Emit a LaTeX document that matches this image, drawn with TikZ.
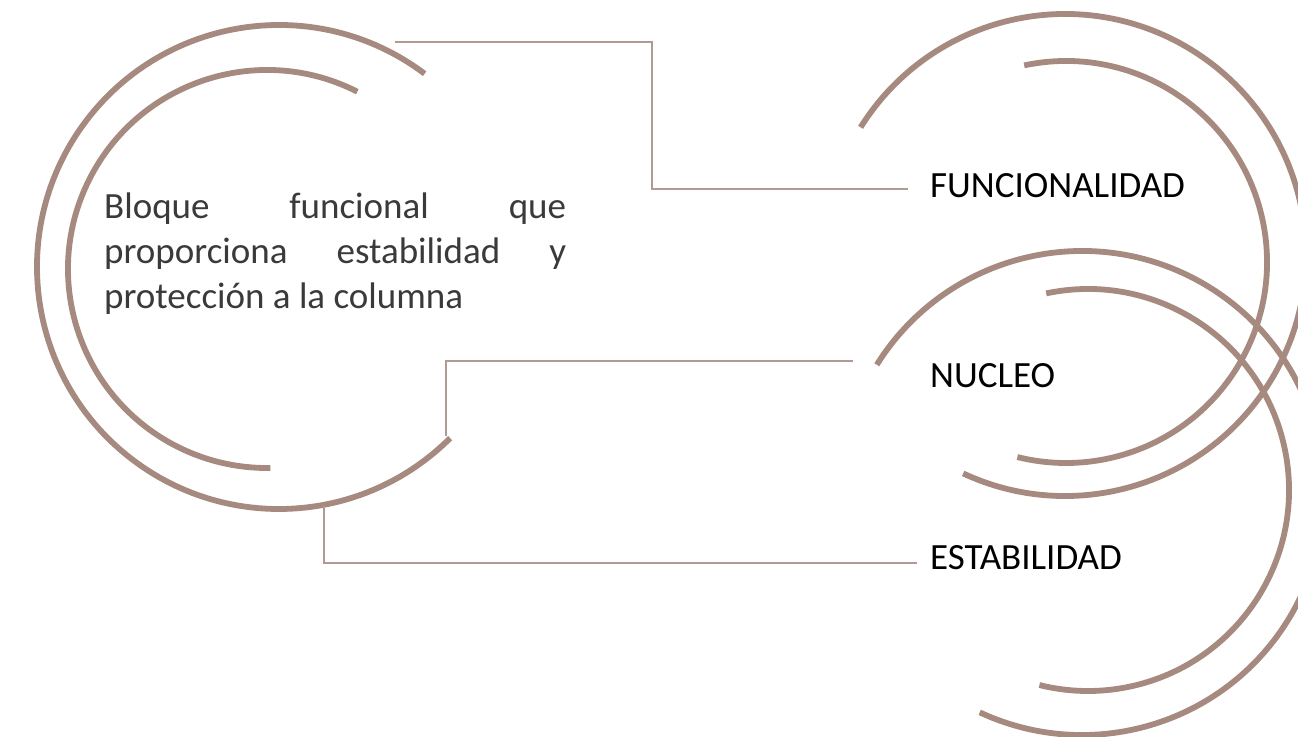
\documentclass[tikz,border=0pt]{standalone}
\usepackage{fontspec}
\setmainfont{Carlito}
\definecolor{arccol}{HTML}{A68A7F}
\definecolor{linecol}{HTML}{B09A91}
\definecolor{bodytxt}{HTML}{3A3A3A}
\begin{document}
\begin{tikzpicture}[x=1pt,y=-1pt,
  arcline/.style={draw=arccol,line width=5.8pt},
  conn/.style={draw=linecol,line width=1.3pt},
  label/.style={anchor=base west,inner sep=0pt,font=\fontsize{37}{45}\selectfont,text=black},
  body/.style={anchor=north west,inner sep=0pt,align=left,font=\fontsize{37}{45}\selectfont,text=bodytxt}]
\fill[white] (0,0) rectangle (1298,736);
\useasboundingbox (0,0) rectangle (1298,736);
\clip (0,0) rectangle (1298,736);

% centres of the arcs
\coordinate (cLo) at (279,267);
\coordinate (cLi) at (267,269);
\coordinate (cAo) at (1065,255);
\coordinate (cAi) at (1066,262);
\coordinate (cBo) at (1082,493);
\coordinate (cBi) at (1088,490);

% left pair
\draw[arcline] (cLo) ++(-53:242) arc[start angle=-53,end angle=-315,radius=242];
\draw[arcline] (cLi) ++(-63:199) arc[start angle=-63,end angle=-271,radius=199];
% right pair (top)
\draw[arcline] (cAo) ++(-148:241) arc[start angle=-148,end angle=115,radius=241];
\draw[arcline] (cAi) ++(-102:201) arc[start angle=-102,end angle=104,radius=201];
% right pair (bottom)
\draw[arcline] (cBo) ++(-148:242) arc[start angle=-148,end angle=115,radius=242];
\draw[arcline] (cBi) ++(-102:201) arc[start angle=-102,end angle=104,radius=201];

% texts
\node[body] (txt) at (104,193) {\makebox[462pt][s]{Bloque funcional que}\\
\makebox[462pt][s]{proporciona estabilidad y}\\
protección a la columna};
\node[label] (fun) at (930,197) {FUNCIONALIDAD};
\node[label] (nuc) at (930,387) {NUCLEO};
\node[label] (est) at (930,569) {ESTABILIDAD};

% connector end points
\coordinate (a0) at (395,42);
\coordinate (a1) at (908,189);
\coordinate (b0) at (446,436);
\coordinate (b1) at (853,361);
\coordinate (c0) at (324,506);
\coordinate (c1) at (917,563);

\draw[conn] (a0) -- (652,42) |- (a1);
\draw[conn] (b0) |- (b1);
\draw[conn] (c0) |- (c1);
\end{tikzpicture}
\end{document}
